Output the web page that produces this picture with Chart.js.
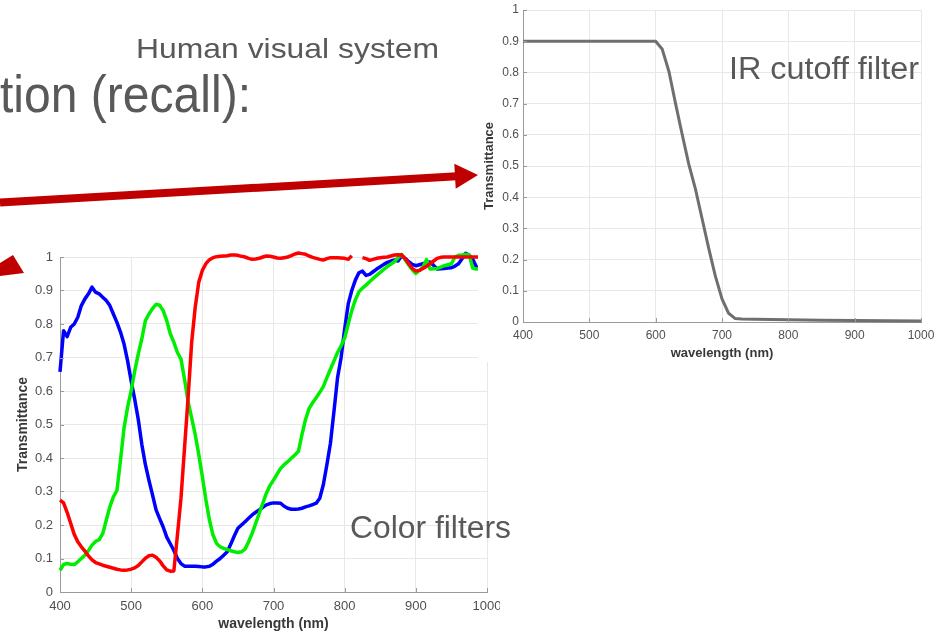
<!DOCTYPE html>
<html>
<head>
<meta charset="utf-8">
<script src="https://cdn.jsdelivr.net/npm/chart.js@4.4.1/dist/chart.umd.min.js"></script>
<style>
  html, body { margin: 0; padding: 0; background: #fff; }
  #slide { position: relative; width: 940px; height: 633px; overflow: hidden; font-family: 'Liberation Sans', Arial, sans-serif; }
  #filters { position: absolute; left: 0; top: 240px; z-index: 1; }
  #ircut { position: absolute; left: 478px; top: 0; z-index: 2; background: #fff; }
  #overlay { position: absolute; left: 0; top: 0; z-index: 3; font-family: 'Liberation Sans', Arial, sans-serif; }
</style>
</head>
<body>
<div id="slide">
  <canvas id="filters" width="500" height="393"></canvas>
  <canvas id="ircut" width="462" height="362"></canvas>
  <svg id="overlay" width="940" height="633">
    <text x="0" y="112" font-size="52" fill="#595959" textLength="251" lengthAdjust="spacingAndGlyphs">tion (recall):</text>
    <text x="136" y="58" font-size="28" fill="#595959" textLength="303" lengthAdjust="spacingAndGlyphs">Human visual system</text>
    <text x="729" y="79" font-size="31" fill="#595959" textLength="190" lengthAdjust="spacingAndGlyphs">IR cutoff filter</text>
    <text x="350" y="538" font-size="31" fill="#595959" textLength="161" lengthAdjust="spacingAndGlyphs">Color filters</text>
    <!-- arrows -->
    <line x1="0" y1="202.5" x2="457" y2="176.3" stroke="#c00000" stroke-width="8"/>
    <polygon points="454.3,163.8 478,175 455.7,188.8" fill="#c00000"/>
    <polygon points="0,263 13,255 24,273 0,276" fill="#c00000"/>
  </svg>
</div>
<script>
// spectral transmittance of the sensor colour filters, sampled every 5 nm
const wavelengths = [
  400, 405, 410, 415, 420, 425, 430, 435, 440, 445,
  450, 455, 460, 465, 470, 475, 480, 485, 490, 495,
  500, 505, 510, 515, 520, 525, 530, 535, 540, 545,
  550, 555, 560, 565, 570, 575, 580, 585, 590, 595,
  600, 605, 610, 615, 620, 625, 630, 635, 640, 645,
  650, 655, 660, 665, 670, 675, 680, 685, 690, 695,
  700, 705, 710, 715, 720, 725, 730, 735, 740, 745,
  750, 755, 760, 765, 770, 775, 780, 785, 790, 795,
  800, 805, 810, 815, 820, 825, 830, 835, 840, 845,
  850, 855, 860, 865, 870, 875, 880, 885, 890, 895,
  900, 905, 910, 915, 920, 925, 930, 935, 940, 945,
  950, 955, 960, 965, 970, 975, 980, 985, 990, 995,
  1000
];

const redFilter = [
  0.274, 0.266, 0.238, 0.205, 0.172, 0.150, 0.135, 0.122, 0.108, 0.096,
  0.088, 0.084, 0.080, 0.077, 0.074, 0.071, 0.068, 0.066, 0.065, 0.066,
  0.068, 0.072, 0.079, 0.090, 0.101, 0.108, 0.110, 0.104, 0.093, 0.078,
  0.066, 0.062, 0.063, 0.170, 0.280, 0.430, 0.580, 0.745, 0.850, 0.925,
  0.960, 0.980, 0.992, 0.998, 1.001, 1.002, 1.003, 1.004, 1.006, 1.006,
  1.005, 1.002, 1.000, 0.996, 0.993, 0.994, 0.996, 1.000, 1.003, 1.002,
  1.000, 0.997, 0.996, 0.998, 1.000, 1.004, 1.009, 1.012, 1.010, 1.008,
  1.003, 0.999, 0.996, 0.993, 0.991, 0.995, 0.998, 0.998, 0.998, 0.997,
  0.996, 0.993, 1.004, null, null, 0.998, 0.995, 0.990, 0.993, 0.996,
  0.998, 0.999, 1.000, 1.003, 1.006, 1.007, 1.006, 0.995, 0.980, 0.966,
  0.958, 0.960, 0.966, 0.972, 0.980, 0.988, 0.996, 0.999, 1.000, 1.000,
  1.000, 1.000, 1.000, 1.000, 1.000, 1.000, 1.000, 1.000, 1.000, 1.000,
  1.000
];

const greenFilter = [
  0.065, 0.082, 0.085, 0.083, 0.082, 0.090, 0.100, 0.110, 0.124, 0.140,
  0.151, 0.156, 0.174, 0.214, 0.254, 0.284, 0.303, 0.393, 0.490, 0.552,
  0.600, 0.660, 0.711, 0.756, 0.810, 0.830, 0.846, 0.859, 0.856, 0.840,
  0.810, 0.771, 0.745, 0.715, 0.695, 0.635, 0.568, 0.520, 0.470, 0.410,
  0.345, 0.275, 0.215, 0.170, 0.145, 0.135, 0.130, 0.127, 0.123, 0.120,
  0.118, 0.120, 0.128, 0.150, 0.175, 0.205, 0.235, 0.265, 0.295, 0.318,
  0.334, 0.352, 0.369, 0.380, 0.389, 0.399, 0.409, 0.420, 0.470, 0.515,
  0.548, 0.565, 0.580, 0.596, 0.613, 0.640, 0.665, 0.690, 0.715, 0.735,
  0.758, 0.800, 0.840, 0.872, 0.896, 0.907, 0.916, 0.926, 0.936, 0.945,
  0.954, 0.963, 0.971, 0.979, 0.986, 0.998, 1.008, 0.992, 0.976, 0.962,
  0.951, 0.960, 0.970, 0.992, 0.964, 0.965, 0.966, 0.970, 0.974, 0.977,
  0.980, 1.000, 1.005, 1.006, 1.008, 1.006, 0.966, 0.964, 0.966, 0.970,
  0.975
];

const blueFilter = [
  0.657, 0.780, 0.762, 0.790, 0.800, 0.820, 0.855, 0.875, 0.890, 0.910,
  0.895, 0.890, 0.880, 0.870, 0.855, 0.830, 0.805, 0.776, 0.740, 0.690,
  0.630, 0.575, 0.515, 0.440, 0.380, 0.333, 0.290, 0.245, 0.219, 0.194,
  0.164, 0.144, 0.124, 0.100, 0.085, 0.077, 0.077, 0.077, 0.077, 0.076,
  0.075, 0.075, 0.077, 0.083, 0.092, 0.100, 0.110, 0.120, 0.143, 0.168,
  0.190, 0.200, 0.210, 0.220, 0.230, 0.238, 0.245, 0.253, 0.260, 0.264,
  0.266, 0.266, 0.265, 0.256, 0.250, 0.247, 0.247, 0.248, 0.250, 0.254,
  0.257, 0.261, 0.265, 0.280, 0.320, 0.380, 0.444, 0.540, 0.640, 0.700,
  0.785, 0.860, 0.900, 0.931, 0.953, 0.958, 0.945, 0.948, 0.956, 0.964,
  0.971, 0.978, 0.984, 0.988, 0.991, 0.988, 1.004, 0.996, 0.986, 0.978,
  0.974, 0.977, 0.980, 0.983, 0.985, 0.975, 0.964, 0.965, 0.966, 0.967,
  0.968, 0.973, 0.980, 0.995, 1.011, 1.006, 0.993, 0.971, 0.965, 0.970,
  0.975
];

// IR cutoff filter, breakpoints of the curve
const irWavelengths = [400, 500, 600, 610, 620, 630, 640, 650, 660, 670, 680, 690, 700, 710, 720, 730, 750, 800, 850, 900, 950, 1000];
const irCutoff = [0.9, 0.9, 0.9, 0.874, 0.803, 0.700, 0.601, 0.505, 0.426, 0.331, 0.236, 0.147, 0.074, 0.028, 0.011, 0.010, 0.009, 0.007, 0.006, 0.005, 0.004, 0.003];

const axisColor = '#9a9a9a';
const gridColor = '#e8e8e8';
const tickColor = '#505050';
const titleColor = '#383838';
const fontFamily = "'Liberation Sans', Arial, Helvetica, sans-serif";

function toPoints(xs, ys) {
  return xs.map((x, i) => ({ x: x, y: ys[i] }));
}

function curve(ys, color, xs) {
  return {
    data: toPoints(xs || wavelengths, ys),
    borderColor: color,
    borderWidth: 3.5,
    pointRadius: 0,
    tension: 0,
    spanGaps: false,
    borderJoinStyle: 'round',
    clip: 6
  };
}

// matlab style tick marks, pointing into the axes
const innerTicks = {
  id: 'innerTicks',
  afterDatasetsDraw(chart) {
    const { ctx, chartArea, scales } = chart;
    ctx.save();
    ctx.strokeStyle = axisColor;
    ctx.lineWidth = 1;
    ctx.beginPath();
    scales.x.ticks.forEach(t => {
      const px = Math.round(scales.x.getPixelForValue(t.value)) + 0.5;
      ctx.moveTo(px, chartArea.bottom);
      ctx.lineTo(px, chartArea.bottom - 4);
    });
    scales.y.ticks.forEach(t => {
      const py = Math.round(scales.y.getPixelForValue(t.value)) + 0.5;
      ctx.moveTo(chartArea.left, py);
      ctx.lineTo(chartArea.left + 4, py);
    });
    ctx.stroke();
    ctx.restore();
  }
};

function makeChart(id, datasets, c) {
  const ctx = document.getElementById(id).getContext('2d');
  return new Chart(ctx, {
    type: 'line',
    data: { datasets: datasets },
    plugins: [innerTicks],
    options: {
      responsive: false,
      animation: false,
      devicePixelRatio: 1,
      layout: { padding: { left: 0, top: c.padTop, right: c.padRight, bottom: 0 } },
      plugins: { legend: { display: false }, tooltip: { enabled: false } },
      scales: {
        x: {
          type: 'linear',
          min: 400,
          max: 1000,
          afterFit: s => { s.height = c.xHeight; s.paddingLeft = 0; s.paddingRight = 0; },
          grid: { color: gridColor, drawTicks: false },
          border: { color: axisColor },
          ticks: {
            stepSize: 100,
            padding: c.xTickPad,
            color: tickColor,
            maxRotation: 0,
            font: { family: fontFamily, size: c.tickSize },
            callback: v => String(v)
          },
          title: {
            display: true,
            text: 'wavelength (nm)',
            color: titleColor,
            padding: { top: 0, bottom: c.xTitlePad },
            font: { family: fontFamily, size: c.titleSize, weight: 'bold' }
          }
        },
        y: {
          min: 0,
          max: 1,
          afterFit: s => { s.width = c.yWidth; s.paddingTop = 0; s.paddingBottom = 0; },
          grid: { color: gridColor, drawTicks: false },
          border: { color: axisColor },
          ticks: {
            stepSize: 0.1,
            padding: c.yTickPad,
            color: tickColor,
            font: { family: fontFamily, size: c.tickSize },
            callback: v => String(Math.round(v * 10) / 10)
          },
          title: {
            display: true,
            text: 'Transmittance',
            color: titleColor,
            padding: { top: c.yTitlePad, bottom: 0 },
            font: { family: fontFamily, size: c.titleSize, weight: 'bold' }
          }
        }
      }
    }
  });
}

makeChart('filters', [
  curve(redFilter, '#ff0000'),
  curve(greenFilter, '#00ee00'),
  curve(blueFilter, '#0000ff')
], { padTop: 17, padRight: 13, xHeight: 41, yWidth: 60, tickSize: 13, titleSize: 14, xTickPad: 7, xTitlePad: 0, yTickPad: 7, yTitlePad: 15 });

makeChart('ircut', [
  Object.assign(curve(irCutoff, '#6f6f6f', irWavelengths), { borderWidth: 3 })
], { padTop: 10, padRight: 19, xHeight: 40, yWidth: 45, tickSize: 12, titleSize: 13, xTickPad: 6, xTitlePad: 1, yTickPad: 4, yTitlePad: 4 });
</script>
</body>
</html>
